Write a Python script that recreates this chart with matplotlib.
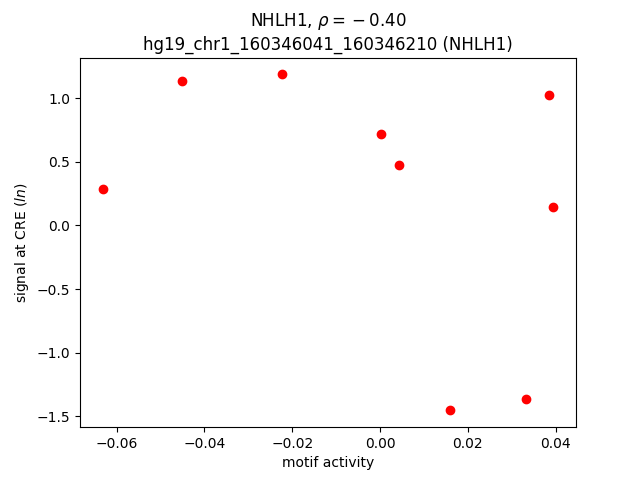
import matplotlib
matplotlib.use("Agg")
import matplotlib.pyplot as plt

# motif activity vs signal at CRE
motif_activity = [-0.0632, -0.0452, -0.0224, 0.0002, 0.0043, 0.0384, 0.0395, 0.0160, 0.0333]
signal = [0.283, 1.132, 1.187, 0.715, 0.472, 1.022, 0.142, -1.454, -1.368]

fig, ax = plt.subplots(figsize=(6.4, 4.8), dpi=100)
ax.scatter(motif_activity, signal, color='red')
ax.set_xlabel('motif activity')
ax.set_ylabel('signal at CRE ($ln$)')
ax.set_title('NHLH1, $\\rho={}-0.40$\nhg19_chr1_160346041_160346210 (NHLH1)')
fig.savefig('out.png')
